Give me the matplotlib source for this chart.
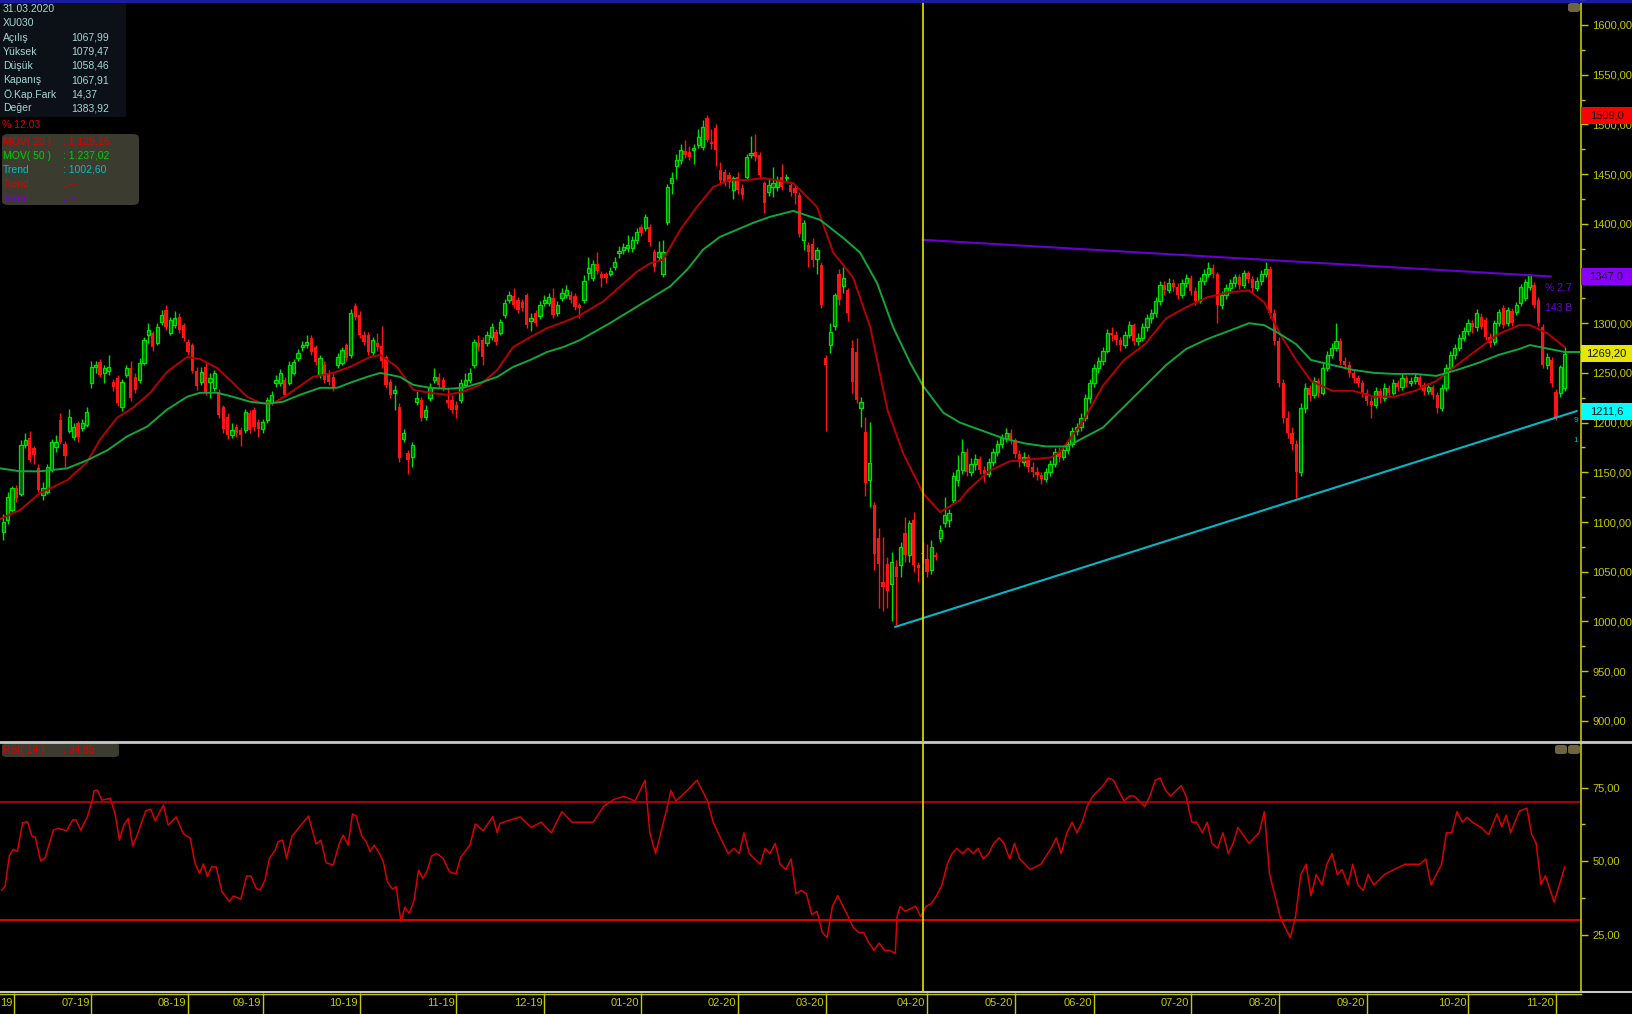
import matplotlib
matplotlib.use("Agg")
import matplotlib.pyplot as plt
import matplotlib.transforms as mtransforms
from matplotlib.lines import Line2D
from matplotlib.patches import FancyBboxPatch, Rectangle
from matplotlib.ticker import FuncFormatter, MultipleLocator
import numpy as np

# ---- data (XU030 daily) ----
opens = [
    1090, 1102, 1112, 1134, 1128, 1177, 1185, 1174, 1154, 1127, 1130, 1152, 1175, 1203, 1178, 1192, 1186, 1200, 1195, 1198,
    1240, 1256, 1261, 1250, 1252, 1241, 1245, 1216, 1248, 1255, 1246, 1243, 1260, 1288, 1290, 1280, 1301, 1313, 1290, 1298,
    1306, 1298, 1281, 1278, 1252, 1241, 1256, 1241, 1235, 1231, 1216, 1206, 1188, 1196, 1193, 1193, 1210, 1213, 1201, 1194,
    1203, 1220, 1240, 1240, 1243, 1240, 1250, 1265, 1276, 1278, 1285, 1276, 1248, 1258, 1250, 1246, 1258, 1260, 1278, 1268,
    1317, 1308, 1288, 1288, 1271, 1280, 1277, 1266, 1241, 1230, 1216, 1183, 1169, 1165, 1221, 1223, 1206, 1225, 1243, 1246,
    1243, 1223, 1223, 1218, 1223, 1238, 1243, 1258, 1280, 1283, 1280, 1286, 1291, 1290, 1308, 1323, 1327, 1323, 1321, 1328,
    1302, 1310, 1307, 1320, 1320, 1325, 1310, 1325, 1328, 1328, 1327, 1318, 1323, 1351, 1345, 1360, 1350, 1350, 1350, 1357,
    1371, 1374, 1376, 1376, 1384, 1397, 1396, 1397, 1372, 1367, 1349, 1402, 1441, 1458, 1464, 1473, 1472, 1474, 1479, 1477,
    1506, 1482, 1496, 1454, 1452, 1449, 1434, 1447, 1436, 1447, 1469, 1472, 1469, 1441, 1432, 1437, 1437, 1447, 1446, 1439,
    1436, 1429, 1384, 1379, 1380, 1365, 1359, 1265, 1278, 1297, 1350, 1337, 1333, 1275, 1271, 1215, 1191, 1142, 1117, 1084,
    1040, 1058, 1038, 1055, 1057, 1089, 1067, 1102, 1057, 1067.99, 1063, 1052, 1067, 1084, 1099, 1102, 1122, 1142,
    1152, 1170, 1150, 1158, 1163, 1152, 1148, 1160, 1170, 1178, 1185, 1190, 1182, 1168, 1160, 1165, 1155, 1150, 1147, 1143,
    1150, 1158, 1170, 1165, 1172, 1178, 1192, 1196, 1205, 1225, 1240, 1255, 1262, 1272, 1290, 1288, 1283, 1278, 1288, 1298,
    1282, 1285, 1296, 1305, 1310, 1322, 1338, 1333, 1340, 1336, 1328, 1340, 1345, 1332, 1322, 1342, 1350, 1356, 1350, 1318,
    1328, 1335, 1340, 1346, 1338, 1350, 1344, 1335, 1342, 1350, 1355, 1310, 1282, 1240, 1205, 1190, 1178, 1150, 1215, 1235,
    1228, 1242, 1230, 1255, 1268, 1275, 1282, 1262, 1258, 1250, 1245, 1240, 1230, 1222, 1218, 1232, 1225, 1235, 1230, 1240,
    1236, 1245, 1240, 1242, 1246, 1238, 1232, 1236, 1228, 1215, 1235, 1255, 1268, 1275, 1285, 1292, 1300, 1296, 1306, 1303,
    1286, 1281, 1300, 1315, 1300, 1312, 1311, 1320, 1325, 1336, 1338, 1323, 1296, 1258, 1263, 1231, 1230, 1235,
]
highs = [
    1108, 1130, 1136, 1137, 1182, 1190, 1192, 1176, 1158, 1140, 1158, 1184, 1188, 1210, 1181, 1214, 1200, 1202, 1204, 1216,
    1262, 1262, 1264, 1258, 1268, 1244, 1248, 1244, 1258, 1262, 1250, 1265, 1286, 1300, 1292, 1300, 1313, 1318, 1306, 1312,
    1310, 1300, 1284, 1280, 1256, 1256, 1260, 1250, 1253, 1234, 1218, 1210, 1200, 1199, 1196, 1214, 1213, 1216, 1204, 1204,
    1226, 1232, 1248, 1254, 1246, 1262, 1264, 1274, 1282, 1288, 1288, 1278, 1268, 1262, 1253, 1250, 1270, 1276, 1280, 1314,
    1320, 1312, 1292, 1291, 1286, 1290, 1297, 1268, 1244, 1238, 1220, 1194, 1172, 1180, 1232, 1226, 1218, 1240, 1255, 1250,
    1246, 1235, 1228, 1222, 1244, 1250, 1255, 1284, 1288, 1286, 1292, 1300, 1294, 1304, 1324, 1332, 1335, 1326, 1324, 1330,
    1310, 1313, 1322, 1328, 1330, 1335, 1322, 1335, 1338, 1332, 1330, 1320, 1348, 1367, 1364, 1372, 1353, 1352, 1357, 1367,
    1378, 1381, 1389, 1388, 1396, 1400, 1410, 1400, 1375, 1383, 1384, 1440, 1452, 1470, 1480, 1484, 1478, 1480, 1495, 1504,
    1509, 1495, 1500, 1462, 1455, 1452, 1448, 1452, 1440, 1470, 1488, 1490, 1472, 1443, 1445, 1457, 1448, 1460, 1450, 1442,
    1440, 1432, 1404, 1382, 1386, 1377, 1362, 1268, 1300, 1330, 1355, 1357, 1335, 1283, 1285, 1226, 1206, 1201, 1120, 1094,
    1085, 1065, 1070, 1062, 1080, 1105, 1102, 1110, 1060, 1079.47, 1078, 1082, 1070, 1097, 1125, 1113, 1150, 1167,
    1184, 1174, 1164, 1168, 1166, 1156, 1164, 1174, 1182, 1189, 1195, 1194, 1185, 1172, 1170, 1168, 1160, 1155, 1150, 1154,
    1162, 1174, 1175, 1176, 1182, 1196, 1200, 1210, 1229, 1244, 1259, 1266, 1276, 1294, 1296, 1292, 1286, 1292, 1302, 1300,
    1290, 1300, 1309, 1314, 1326, 1342, 1342, 1345, 1344, 1340, 1344, 1350, 1348, 1336, 1346, 1355, 1362, 1360, 1352, 1332,
    1339, 1344, 1350, 1349, 1354, 1353, 1347, 1346, 1354, 1362, 1358, 1314, 1286, 1244, 1212, 1196, 1182, 1220, 1240, 1238,
    1246, 1245, 1260, 1272, 1280, 1300, 1285, 1266, 1262, 1254, 1248, 1243, 1234, 1226, 1236, 1235, 1240, 1238, 1244, 1243,
    1250, 1248, 1246, 1250, 1249, 1241, 1240, 1238, 1231, 1239, 1259, 1272, 1279, 1289, 1296, 1304, 1303, 1314, 1310, 1306,
    1290, 1303, 1314, 1318, 1316, 1315, 1321, 1339, 1344, 1350, 1341, 1326, 1299, 1270, 1266, 1234, 1258, 1276,
]
lows = [
    1082, 1098, 1110, 1120, 1126, 1174, 1160, 1158, 1130, 1122, 1128, 1150, 1170, 1178, 1155, 1190, 1182, 1180, 1192, 1196,
    1235, 1250, 1246, 1240, 1248, 1232, 1217, 1212, 1246, 1222, 1230, 1240, 1258, 1280, 1272, 1278, 1298, 1293, 1288, 1295,
    1290, 1282, 1268, 1250, 1233, 1238, 1228, 1225, 1232, 1205, 1190, 1183, 1185, 1186, 1176, 1190, 1190, 1192, 1186, 1190,
    1200, 1218, 1236, 1237, 1226, 1238, 1248, 1262, 1272, 1275, 1268, 1258, 1245, 1240, 1238, 1232, 1255, 1258, 1262, 1265,
    1303, 1285, 1278, 1268, 1268, 1272, 1255, 1235, 1225, 1213, 1160, 1180, 1148, 1155, 1218, 1202, 1203, 1222, 1240, 1235,
    1232, 1215, 1210, 1205, 1220, 1236, 1240, 1255, 1272, 1258, 1277, 1283, 1278, 1288, 1305, 1320, 1315, 1310, 1312, 1295,
    1292, 1297, 1304, 1317, 1317, 1305, 1307, 1322, 1325, 1320, 1313, 1305, 1320, 1343, 1342, 1350, 1336, 1340, 1347, 1354,
    1366, 1370, 1372, 1372, 1380, 1388, 1393, 1378, 1352, 1364, 1346, 1399, 1430, 1445, 1460, 1466, 1464, 1460, 1476, 1474,
    1482, 1475, 1458, 1440, 1438, 1436, 1425, 1430, 1425, 1444, 1466, 1463, 1446, 1411, 1428, 1427, 1433, 1434, 1443, 1428,
    1420, 1387, 1374, 1357, 1357, 1349, 1315, 1192, 1270, 1293, 1318, 1330, 1302, 1230, 1220, 1196, 1126, 1115, 1052, 1013,
    1010, 1013, 1000, 996, 1045, 1060, 1060, 1050, 1040, 1058.46, 1045, 1048, 1062, 1080, 1095, 1095, 1118, 1136,
    1148, 1146, 1146, 1152, 1148, 1140, 1145, 1156, 1166, 1174, 1180, 1178, 1164, 1155, 1156, 1150, 1145, 1142, 1138, 1140,
    1146, 1155, 1160, 1162, 1168, 1175, 1188, 1192, 1202, 1220, 1236, 1250, 1258, 1270, 1282, 1278, 1272, 1275, 1285, 1278,
    1278, 1282, 1292, 1300, 1306, 1318, 1328, 1330, 1332, 1324, 1325, 1336, 1328, 1318, 1320, 1338, 1346, 1345, 1300, 1314,
    1324, 1330, 1336, 1334, 1335, 1340, 1330, 1332, 1338, 1346, 1305, 1278, 1236, 1200, 1185, 1172, 1124, 1146, 1210, 1222,
    1225, 1226, 1228, 1252, 1265, 1272, 1258, 1254, 1246, 1240, 1236, 1226, 1218, 1205, 1215, 1220, 1222, 1226, 1228, 1232,
    1233, 1236, 1237, 1239, 1234, 1228, 1229, 1224, 1210, 1212, 1232, 1252, 1264, 1272, 1282, 1288, 1290, 1292, 1294, 1283,
    1276, 1278, 1297, 1295, 1297, 1297, 1308, 1317, 1322, 1333, 1315, 1297, 1255, 1254, 1236, 1203, 1226, 1232,
]
closes = [
    1100, 1125, 1134, 1124, 1177, 1182, 1162, 1167, 1132, 1134, 1155, 1180, 1180, 1180, 1166, 1206, 1196, 1186, 1200, 1211,
    1256, 1258, 1248, 1255, 1256, 1236, 1220, 1241, 1255, 1225, 1233, 1260, 1283, 1293, 1276, 1296, 1308, 1296, 1303, 1305,
    1293, 1285, 1271, 1252, 1237, 1251, 1230, 1245, 1250, 1208, 1194, 1188, 1193, 1190, 1188, 1211, 1193, 1196, 1194, 1201,
    1223, 1228, 1243, 1250, 1228, 1258, 1261, 1270, 1278, 1281, 1271, 1261, 1265, 1243, 1241, 1235, 1266, 1273, 1265, 1310,
    1306, 1288, 1281, 1271, 1283, 1276, 1262, 1238, 1228, 1233, 1164, 1190, 1162, 1177, 1225, 1205, 1213, 1236, 1246, 1238,
    1235, 1220, 1213, 1213, 1240, 1243, 1250, 1281, 1276, 1266, 1288, 1296, 1281, 1301, 1320, 1328, 1318, 1313, 1315, 1298,
    1305, 1300, 1318, 1323, 1326, 1308, 1318, 1330, 1333, 1323, 1316, 1315, 1342, 1356, 1360, 1353, 1345, 1345, 1353, 1362,
    1373, 1377, 1379, 1384, 1392, 1391, 1407, 1382, 1357, 1372, 1372, 1437, 1446, 1464, 1474, 1469, 1467, 1476, 1487, 1497,
    1484, 1480, 1474, 1444, 1442, 1442, 1446, 1434, 1429, 1467, 1471, 1467, 1449, 1421, 1439, 1441, 1444, 1437, 1447, 1432,
    1431, 1390, 1401, 1372, 1364, 1374, 1318, 1258, 1291, 1328, 1323, 1345, 1310, 1241, 1223, 1221, 1139, 1159, 1068, 1058,
    1035, 1031, 1060, 1045, 1075, 1067, 1099, 1057, 1054, 1067.91, 1050, 1075, 1065, 1092, 1107, 1109, 1146, 1152,
    1170, 1150, 1158, 1163, 1152, 1148, 1160, 1170, 1178, 1185, 1190, 1182, 1168, 1160, 1165, 1155, 1150, 1147, 1143, 1150,
    1158, 1170, 1165, 1172, 1178, 1192, 1196, 1205, 1225, 1240, 1255, 1262, 1272, 1290, 1288, 1283, 1278, 1288, 1298, 1282,
    1285, 1296, 1305, 1310, 1322, 1338, 1333, 1340, 1336, 1328, 1340, 1345, 1332, 1322, 1342, 1350, 1356, 1350, 1318, 1328,
    1335, 1340, 1346, 1338, 1350, 1344, 1335, 1342, 1350, 1355, 1310, 1282, 1240, 1205, 1190, 1178, 1150, 1215, 1235, 1228,
    1242, 1230, 1255, 1268, 1275, 1282, 1262, 1258, 1250, 1245, 1240, 1230, 1222, 1218, 1232, 1225, 1235, 1230, 1240, 1236,
    1245, 1240, 1242, 1246, 1238, 1232, 1236, 1228, 1215, 1235, 1255, 1268, 1275, 1285, 1292, 1300, 1296, 1310, 1296, 1286,
    1280, 1300, 1311, 1298, 1313, 1300, 1318, 1336, 1341, 1348, 1318, 1300, 1258, 1266, 1240, 1206, 1256, 1269.20,
]

# moving averages as drawn (candle index, value)
mov20 = [
    (-0.75, 1103), (3.8, 1112), (8.3, 1129), (14.5, 1142), (19, 1160), (22, 1183), (25.9, 1205), (29.5, 1215),
    (33.4, 1230), (37.2, 1251), (41.8, 1266), (44.7, 1264), (48.6, 1255), (52.2, 1240), (55.4, 1226), (58.4, 1220),
    (61.3, 1219), (65.2, 1230), (70.4, 1246), (75, 1250), (78.8, 1256), (83.4, 1266), (85.7, 1268), (89.5, 1256),
    (93.2, 1233), (97, 1230), (100.9, 1228), (104.5, 1231), (108.4, 1238), (112.3, 1253), (115.9, 1276), (119.8, 1286),
    (123.6, 1295), (127.3, 1301), (131.1, 1308), (136.4, 1322), (144.1, 1352), (147, 1360), (150, 1364), (153.9, 1394),
    (157.7, 1417), (161.4, 1437), (165.2, 1444), (169.1, 1444), (172.7, 1446), (179.6, 1441), (185, 1417), (188.7, 1371),
    (193.2, 1346), (197.1, 1296), (201, 1213), (204.6, 1169), (209.1, 1129), (213, 1110), (217.5, 1122), (219.3, 1132),
    (224, 1151), (228.8, 1161), (233.5, 1163), (238.3, 1165), (240.5, 1172), (245.3, 1200), (250, 1237), (254.8, 1263),
    (259.6, 1279), (264.4, 1305), (268.9, 1316), (273.7, 1326), (278.5, 1331), (283.2, 1333), (286.7, 1321),
    (290.3, 1289), (293.9, 1263), (297.3, 1242), (302.1, 1232), (306.9, 1232), (311.7, 1226), (316.2, 1226),
    (321, 1232), (325.8, 1242), (330.5, 1258), (335.3, 1274), (339.9, 1289), (344.6, 1298), (347.1, 1298),
    (351, 1290), (355, 1276),
]
mov50 = [
    (-0.75, 1154), (3.8, 1151), (8.3, 1151), (14.5, 1154), (19, 1162), (23.6, 1172), (28.1, 1186), (32.7, 1196),
    (37.2, 1213), (41.8, 1226), (44.7, 1230), (48.6, 1230), (52.2, 1226), (56.1, 1221), (60, 1219), (63.6, 1221),
    (67.5, 1228), (72, 1235), (75.9, 1235), (78.8, 1240), (82.7, 1246), (85.7, 1250), (90.2, 1246), (93.2, 1238),
    (97, 1235), (100.9, 1234), (104.5, 1235), (108.4, 1240), (112.3, 1246), (115.9, 1256), (119.8, 1263), (123.6, 1271),
    (127.3, 1276), (131.1, 1283), (137.9, 1300), (146.4, 1323), (151.6, 1337), (155.5, 1354), (159.1, 1374), (163, 1387),
    (166.8, 1394), (170.5, 1401), (174.3, 1407), (179.6, 1413), (185.7, 1404), (190.9, 1386), (194.8, 1371), (198.7, 1340),
    (202.3, 1296), (206.2, 1260), (209.1, 1237), (213.7, 1210), (217.5, 1200), (227.5, 1184), (232.3, 1179), (237.1, 1176),
    (241.9, 1176), (245.3, 1184), (250, 1195), (254.8, 1216), (259.6, 1237), (264.4, 1258), (268.9, 1274), (273.7, 1284),
    (278.5, 1292), (283.2, 1300), (286.7, 1298), (290.3, 1289), (293.9, 1279), (297.3, 1263), (302.1, 1258), (306.9, 1253),
    (311.7, 1250), (316.2, 1249), (321, 1249), (325.8, 1247), (330.5, 1253), (335.3, 1260), (339.9, 1268), (344.6, 1274),
    (347.1, 1278), (355, 1271),
]

rsi14 = [
    (-0.4, 40.1), (0.4, 41.3), (1.4, 52), (2.3, 54), (3.2, 53.2), (4.4, 63), (5.5, 63.4), (6.5, 58.5), (7.3, 58),
    (8.5, 50), (9.5, 51.1), (11.4, 60.5), (12.5, 61.1), (14.4, 60.3), (15.8, 64), (16.5, 64), (17.6, 60.5), (19.1, 65),
    (20.3, 71), (20.6, 73.9), (21.4, 74.1), (22.4, 70.7), (24.3, 71.3), (25.4, 66.2), (26.4, 57.1), (27.4, 62.2),
    (28.4, 64.5), (29.4, 55.1), (30.3, 58.3), (32.4, 67.1), (33.5, 67.6), (34.5, 63.7), (36.4, 69), (37.5, 62.2),
    (39.3, 65), (40.9, 59.4), (42.5, 57.7), (43.6, 49.2), (44.6, 45.8), (45.5, 49), (46.4, 44.7), (47.4, 48.1),
    (48.4, 47.9), (49.7, 39.6), (51.4, 36.2), (52.3, 38.1), (54, 37), (55.3, 44.9), (56.3, 44.9), (57.5, 40.7),
    (58.4, 40.1), (59.5, 43.5), (60.5, 50.9), (61.8, 53.7), (62.5, 56.6), (63.5, 57.1), (64.4, 50.9), (65.6, 58.3),
    (67.5, 61.9), (69.4, 65.3), (71.1, 55.8), (72.2, 57.1), (73.4, 49.4), (75, 48.6), (76.4, 56), (77.3, 58.8),
    (78.4, 55.4), (79.4, 66), (80.2, 65.3), (81.5, 58.5), (82.5, 56.6), (83.4, 53.2), (84.3, 55.4), (85.5, 52.6),
    (86.4, 49.8), (87.3, 43), (88.5, 40.4), (89.3, 41.3), (90.4, 29.4), (91.3, 34.3), (92.3, 32.2), (93.4, 36.7),
    (94.4, 46.9), (95.4, 44.1), (96.3, 46.4), (97.4, 51.7), (98.5, 52.6), (100, 50.9), (101.4, 46.4), (102.9, 45.6),
    (104, 51.3), (106.1, 55.4), (107.3, 62.6), (109.1, 60.3), (111.3, 65.1), (112.3, 59.6), (112.9, 62.8), (117.5, 65),
    (120, 61.4), (122.3, 63.2), (124.6, 59.6), (127, 66.8), (129.3, 63.2), (131.8, 63.2), (134.1, 63.2), (136.5, 68.6),
    (138.9, 71), (141.1, 72), (143.6, 70.4), (144.8, 74), (145.9, 77.5), (147, 59.6), (148.3, 52.5), (149.5, 59.6),
    (150.7, 66.8), (151.8, 74), (152.9, 70.4), (155.5, 74), (157.7, 77.5), (158.9, 74), (160.1, 70.4), (161.4, 63.2),
    (162.5, 59.6), (164.8, 52.5), (166.1, 54.3), (167.3, 52.5), (168.4, 59.6), (169.6, 52.5), (172.1, 48.9),
    (173.2, 54.3), (174.3, 52.5), (175.5, 56), (176.6, 48.9), (177.9, 47.1), (179.1, 50.7), (180.2, 38.9), (181.4, 40),
    (182.6, 38.9), (183.8, 31.8), (185, 32.9), (186.2, 25.7), (187.3, 23.9), (188.5, 34.6), (189.7, 38.2), (190.9, 34.6),
    (192.1, 31.1), (193.2, 27.5), (194.5, 25.7), (195.6, 25.7), (196.8, 22.1), (198, 19.6), (199.1, 22.1), (200.4, 19.6),
    (201.5, 19.6), (202.8, 18.6), (203.2, 31.1), (203.9, 34.6), (205, 32.9), (207.4, 34.6), (208.6, 31.1), (209.8, 34.6),
    (210.9, 35.4), (212.2, 38.2), (213.4, 41.8), (214.6, 48.9), (215.7, 52.5), (216.8, 54.3), (218.1, 52.5), (219.3, 54.3),
    (220.5, 52.5), (221.6, 54.3), (222.8, 50.7), (224, 52.5), (225.2, 56), (226.4, 57.9), (227.5, 56), (228.8, 50.7),
    (229.9, 56), (231.1, 50.7), (232.3, 48.9), (233.4, 47.1), (235.9, 48.9), (238.2, 54.3), (239.4, 57.9), (240.5, 52.5),
    (241.8, 59.6), (243, 63.2), (244.1, 59.6), (245.3, 63.2), (246.4, 68.6), (247.7, 72.1), (250.1, 75.7), (251.2, 78.2),
    (252.4, 77.5), (253.6, 73.9), (254.8, 70.4), (256, 72.1), (257.1, 72.1), (259.5, 68.6), (260.7, 72.1), (261.9, 77.5),
    (263, 78.2), (264.3, 73.9), (265.4, 72.1), (266.6, 73.9), (267.8, 75.7), (268.9, 72.1), (270.2, 63.2), (271.3, 63.2),
    (272.6, 59.6), (273.7, 63.2), (274.8, 56), (276.1, 54.3), (277.3, 59.6), (278.5, 52.5), (279.6, 56), (280.7, 61.4),
    (283.2, 56), (284.4, 57.9), (285.5, 59.6), (286.7, 66.8), (287.9, 45.4), (289.1, 38.2), (290.3, 31.1), (291.4, 27.5),
    (292.6, 23.9), (293.8, 31.1), (295, 45.4), (296.2, 48.9), (297.3, 38.2), (298.5, 45.4), (299.8, 41.8), (300.9, 48.9),
    (302.1, 52.5), (303.3, 45.4), (304.4, 47.1), (305.7, 41.8), (306.8, 48.9), (308, 41.8), (309.2, 40), (310.3, 45.4),
    (311.6, 41.8), (314, 45.4), (316.2, 47.1), (318.7, 48.9), (321, 48.9), (322.1, 48.9), (323.4, 50.7), (324.6, 41.8),
    (325.8, 45.4), (327, 48.9), (328.1, 59.6), (329.3, 59.6), (330.5, 66.8), (331.7, 63.2), (332.8, 64.9), (334, 63.2),
    (335.8, 61.6), (337.7, 59), (339.6, 66), (340.7, 61.6), (341.7, 65.6), (342.7, 59.7), (344.7, 67), (346.4, 68),
    (347.5, 59), (348.5, 56), (349.6, 42), (350.6, 45), (352.6, 36), (355, 48),
]

trend_support = [(202.8, 994.5), (357.7, 1211.6)]
trend_resist = [(209, 1383.9), (351.8, 1347.0)]

month_labels = ["19", "07-19", "08-19", "09-19", "10-19", "11-19", "12-19", "01-20", "02-20",
                "03-20", "04-20", "05-20", "06-20", "07-20", "08-20", "09-20", "10-20", "11-20"]
month_start = [2.5, 20, 42, 59, 81, 103, 123, 145, 167, 187, 210, 230, 248, 270, 290, 310, 333, 353]

cross_idx = 209
info_rows = [("Açılış", "1067,99"), ("Yüksek", "1079,47"), ("Düşük", "1058,46"),
             ("Kapanış", "1067,91"), ("Ö.Kap.Fark", "14,37"), ("Değer", "1383,92")]

# ---- look ----
W, H = 1632, 1014
AXIS_X = 1581          # right price scale line, px
MAIN_BOTTOM = 741      # px from top
RSI_TOP, RSI_BOTTOM = 743, 991
X_LIM = (-0.75, 358.7)

YEL = "#c8c800"
RED = "#ff1414"
GREEN = "#00e000"
FONT = ["Liberation Sans", "DejaVu Sans"]

plt.rcParams["font.family"] = FONT


def fx(px: float) -> float:
    return px / W


def fy(py: float) -> float:
    return 1 - py / H


def tr_fmt(v: float, nd: int = 2) -> str:
    return f"{v:.{nd}f}".replace(".", ",")


def style_axis(ax: plt.Axes) -> None:
    ax.set_facecolor("black")
    for side in ("left", "top", "bottom"):
        ax.spines[side].set_visible(False)
    ax.spines["right"].set_color(YEL)
    ax.spines["right"].set_linewidth(1.2)
    ax.yaxis.tick_right()
    ax.tick_params(axis="y", which="both", direction="out", colors=YEL, labelcolor=YEL,
                   labelsize=8, pad=3)
    ax.tick_params(axis="y", which="major", length=5, width=1)
    ax.tick_params(axis="y", which="minor", length=3, width=1)
    ax.set_xticks([])
    ax.set_xlim(*X_LIM)


def draw_candles(ax: plt.Axes) -> None:
    o = np.array(opens, float)
    h = np.array(highs, float)
    lo = np.array(lows, float)
    c = np.array(closes, float)
    x = np.arange(len(c))
    up = c >= o
    ax.vlines(x[up], lo[up], h[up], color=GREEN, lw=1)
    ax.vlines(x[~up], lo[~up], h[~up], color=RED, lw=1)
    body = np.maximum(np.abs(c - o), 1.0)
    ax.bar(x[up], body[up], bottom=np.minimum(o, c)[up], width=0.74,
           facecolor="#006400", edgecolor=GREEN, linewidth=0.9, zorder=3)
    ax.bar(x[~up], body[~up], bottom=np.minimum(o, c)[~up], width=0.74,
           color=RED, linewidth=0, zorder=3)


def value_tag(ax: plt.Axes, value: float, text: str, fc: str) -> None:
    trans = mtransforms.blended_transform_factory(ax.transAxes, ax.transData)
    ax.add_patch(Rectangle((1.0, value - 8.5), (W - AXIS_X) / AXIS_X, 17, transform=trans,
                           facecolor=fc, edgecolor="none", clip_on=False, zorder=6))
    ax.text(1.0 + (W - AXIS_X) / AXIS_X / 2, value, text, transform=trans, ha="center",
            va="center", fontsize=8, color="#141414", clip_on=False, zorder=7)


def small_button(x0: float, y0: float) -> None:
    fig.add_artist(FancyBboxPatch((fx(x0), fy(y0 + 9)), fx(12), 9 / H, transform=fig.transFigure,
                                  boxstyle="round,pad=0,rounding_size=0.002",
                                  facecolor="#6e6440", edgecolor="none", zorder=9))


fig = plt.figure(figsize=(W / 100, H / 100), dpi=100, facecolor="black")

sx, sy = zip(*trend_support)
rx, ry = zip(*trend_resist)
tag_values = [max(highs), ry[-1], closes[-1], sy[-1]]


def price_label(v: float, _pos) -> str:
    # a scale label that sits right under a value tag is hidden by it
    if any(abs(v - t) < 6 for t in tag_values):
        return ""
    return tr_fmt(v)


# ---- price panel ----
ax = fig.add_axes([0, fy(MAIN_BOTTOM), fx(AXIS_X), MAIN_BOTTOM / H])
style_axis(ax)
ax.set_ylim(1600 - (MAIN_BOTTOM - 25) / 0.994, 1600 + 25 / 0.994)
ax.yaxis.set_major_locator(MultipleLocator(50))
ax.yaxis.set_minor_locator(MultipleLocator(25))
ax.yaxis.set_major_formatter(FuncFormatter(price_label))

draw_candles(ax)
m20x, m20y = zip(*mov20)
m50x, m50y = zip(*mov50)
ax.plot(m20x, m20y, color="#b80000", lw=1.4, zorder=4)
ax.plot(m50x, m50y, color="#10a838", lw=1.4, zorder=4)
ax.hlines(m50y[-1], m50x[-1], X_LIM[1], color="#10a838", lw=1.4, zorder=4)

ax.plot(sx, sy, color="#00b8c8", lw=1.5, zorder=5, clip_on=False)
ax.plot(rx, ry, color="#6a00d0", lw=1.5, zorder=5)
ax.text(rx[-1] - 1.2, ry[-1] - 12, "% 2.7", color="#6a00d0", fontsize=7.5, va="center")
ax.text(rx[-1] - 1.2, ry[-1] - 32, "143 B", color="#6a00d0", fontsize=7.5, va="center")
ax.text(sx[-1] - 0.2, sy[-1] - 9, "9", color="#00b8c8", fontsize=6, va="center", ha="center")
ax.text(sx[-1] - 0.2, sy[-1] - 30, "1", color="#00b8c8", fontsize=6, va="center", ha="center")
ax.axvline(cross_idx, color="#e6e600", lw=1.2, zorder=8)

value_tag(ax, max(highs), tr_fmt(max(highs), 1), "#ff0000")
value_tag(ax, ry[-1], tr_fmt(ry[-1], 1), "#8a00ff")
value_tag(ax, closes[-1], tr_fmt(closes[-1]), "#e6e600")
value_tag(ax, sy[-1], tr_fmt(sy[-1], 1), "#00ffff")

# ---- RSI panel ----
ax_r = fig.add_axes([0, fy(RSI_BOTTOM), fx(AXIS_X), (RSI_BOTTOM - RSI_TOP) / H])
style_axis(ax_r)
ax_r.set_ylim(50 - (RSI_BOTTOM - 861) / 2.94, 50 + (861 - RSI_TOP) / 2.94)
ax_r.set_yticks([25, 50, 75])
ax_r.set_yticks([37.5, 62.5], minor=True)
ax_r.yaxis.set_major_formatter(FuncFormatter(lambda v, _: tr_fmt(v)))
ax_r.axhline(70, color="#a80000", lw=1.4)
ax_r.axhline(30, color="#e00000", lw=1.4)
rsx, rsy = zip(*rsi14)
ax_r.plot(rsx, rsy, color="#d80000", lw=1.1)
ax_r.axvline(cross_idx, color="#e6e600", lw=1.2, zorder=8)

# ---- date strip ----
ax_d = fig.add_axes([0, 0, fx(AXIS_X), (H - RSI_BOTTOM) / H])
ax_d.set_facecolor("black")
ax_d.set_axis_off()
ax_d.set_xlim(*X_LIM)
ax_d.set_ylim(0, 1)
ax_d.vlines(month_start, 0, 0.92, color=YEL, lw=1)
for lab, m in zip(month_labels, month_start):
    ax_d.text(m - 0.4, 0.48, lab, color=YEL, fontsize=8, ha="right", va="center", clip_on=False)

# separators and frame lines
fig.add_artist(Line2D([0, 1], [fy(742), fy(742)], color="#c8c8c8", lw=2))
fig.add_artist(Line2D([0, 1], [fy(991.5), fy(991.5)], color="#c8c8c8", lw=1.5))
fig.add_artist(Line2D([0, fx(AXIS_X)], [fy(993.5), fy(993.5)], color=YEL, lw=1))
fig.add_artist(Line2D([0, 1], [fy(0.8), fy(0.8)], color="#1c1cb4", lw=2))
small_button(1568, 3)
small_button(1555, 745)
small_button(1568, 745)

# ---- info panel ----
fig.add_artist(Rectangle((0, fy(117)), fx(126), 117 / H, transform=fig.transFigure,
                         facecolor="#0b1116", edgecolor="none"))
INFO = "#a6d8d8"
fig.text(fx(3), fy(9.5), "31.03.2020", color=INFO, fontsize=7.5, va="center")
fig.text(fx(3), fy(23.5), "XU030", color=INFO, fontsize=7.5, va="center")
for k, (name, val) in enumerate(info_rows):
    yy = 37.8 + k * 14.1
    fig.text(fx(3), fy(yy), name, color=INFO, fontsize=7.5, va="center")
    fig.text(fx(71), fy(yy), val, color=INFO, fontsize=7.5, va="center")
fig.text(fx(2), fy(124.5), "% 12.03", color="#e00000", fontsize=7.5, va="center")

fig.add_artist(FancyBboxPatch((fx(2), fy(205)), fx(137), (205 - 134) / H, transform=fig.transFigure,
                              boxstyle="round,pad=0,rounding_size=0.004",
                              facecolor="#3b3b30", edgecolor="none"))
legend_rows = [("MOV( 20 )", ": 1.129,15", "#e00000"), ("MOV( 50 )", ": 1.237,02", "#00d000"),
               ("Trend", ": 1002,60", "#00c0c0"), ("Trend", ": --", "#e00000"), ("Trend", ": --", "#7a00e0")]
for k, (name, val, col) in enumerate(legend_rows):
    yy = 141.7 + k * 14.15
    fig.text(fx(3), fy(yy), name, color=col, fontsize=7.5, va="center")
    fig.text(fx(63), fy(yy), val, color=col, fontsize=7.5, va="center")

fig.add_artist(FancyBboxPatch((fx(2), fy(757)), fx(117), 14 / H, transform=fig.transFigure,
                              boxstyle="round,pad=0,rounding_size=0.003",
                              facecolor="#3b3b30", edgecolor="none"))
fig.text(fx(3), fy(750), "RSI( 14 )", color="#e00000", fontsize=7.5, va="center")
fig.text(fx(63), fy(750), ": 34,85", color="#e00000", fontsize=7.5, va="center")

fig.savefig("out.png", dpi=100, facecolor="black")
